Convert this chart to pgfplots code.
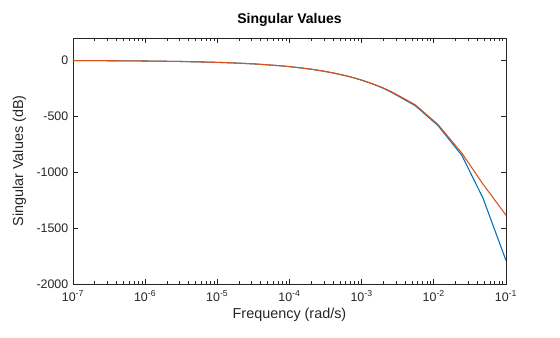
\documentclass[border=0pt]{standalone}
\usepackage{pgfplots}
\pgfplotsset{compat=1.18}
\usepackage{fontspec}
\setmainfont{Liberation Sans}
\definecolor{mblue}{rgb}{0,0.447,0.741}
\definecolor{morange}{rgb}{0.85,0.325,0.098}
\definecolor{axgray}{rgb}{0.15,0.15,0.15}
\begin{document}
\begin{tikzpicture}
\path[use as bounding box] (-54.75pt,-39.75pt) rectangle (365.25pt,213pt);
\begin{axis}[
  at={(0,0)}, anchor=south west,
  scale only axis, width=324.75pt, height=184.5pt,
  xmode=log, xmin=1e-7, xmax=1e-1,
  ymin=-2000, ymax=200,
  xtick={1e-7,1e-6,1e-5,1e-4,1e-3,1e-2,1e-1},
  xticklabels={10\textsuperscript{-7},10\textsuperscript{-6},10\textsuperscript{-5},10\textsuperscript{-4},10\textsuperscript{-3},10\textsuperscript{-2},10\textsuperscript{-1}},
  ytick={-2000,-1500,-1000,-500,0},
  /pgf/number format/assume math mode=true,
  /pgf/number format/1000 sep={},
  axis line style={axgray, line width=0.5pt},
  every tick/.style={axgray, line width=0.5pt},
  major tick length=4pt, minor tick length=2.2pt,
  tick label style={font=\fontsize{9.3}{10}\selectfont, text=axgray},
  xlabel={Frequency (rad/s)}, ylabel={Singular Values (dB)},
  label style={font=\fontsize{10.8}{12}\selectfont, text=axgray},
  xlabel style={yshift=2pt},
  ylabel style={yshift=1pt},
  title={Singular Values},
  title style={font=\bfseries\fontsize{10.5}{12}\selectfont, text=black, yshift=-1pt},
  xticklabel style={yshift=-1pt},
]
\addplot[mblue, line width=0.8pt] coordinates {
(1e-7,-1.8) (3e-7,-3.1) (1e-6,-5.6) (3e-6,-9.7) (1e-5,-17.7) (2e-5,-25) (3.5e-5,-33) (5e-5,-40)
(7e-5,-47) (1e-4,-56) (1.5e-4,-69) (2e-4,-79) (3e-4,-97) (4e-4,-112) (6e-4,-137) (8e-4,-158)
(0.001,-177) (0.00125,-198) (0.0016,-224) (0.002,-250) (0.0026,-286)
(0.0055,-404) (0.0114,-582) (0.0245,-850) (0.048,-1232) (0.1,-1790)
};
\addplot[morange, line width=0.8pt] coordinates {
(1e-7,-1.8) (3e-7,-3.1) (1e-6,-5.6) (3e-6,-9.7) (1e-5,-17.7) (2e-5,-25) (3.5e-5,-33) (5e-5,-40)
(7e-5,-47) (1e-4,-56) (1.5e-4,-69) (2e-4,-79) (3e-4,-97) (4e-4,-112) (6e-4,-137) (8e-4,-158)
(0.001,-177) (0.00125,-197) (0.0016,-222) (0.002,-247) (0.0026,-281)
(0.0055,-396) (0.0114,-573) (0.0245,-830) (0.048,-1107) (0.1,-1384)
};
\end{axis}
\end{tikzpicture}
\end{document}
